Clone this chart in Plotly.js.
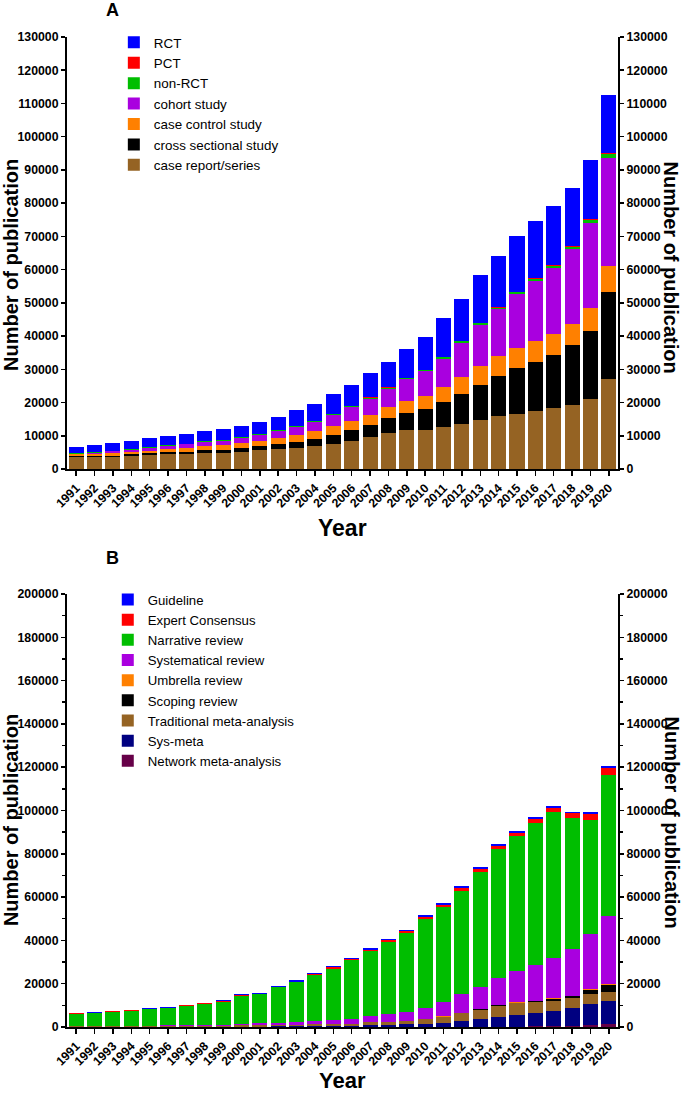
<!DOCTYPE html>
<html>
<head>
<meta charset="utf-8">
<script src="https://cdn.plot.ly/plotly-3.0.1.min.js"></script>
<style>html,body{margin:0;padding:0;background:#fff;}#chart{width:685px;height:1094px;}</style>
</head>
<body>
<div id="chart"></div>
<script>
const years = ['1991','1992','1993','1994','1995','1996','1997','1998','1999','2000','2001','2002','2003','2004','2005','2006','2007','2008','2009','2010','2011','2012','2013','2014','2015','2016','2017','2018','2019','2020'];

// Panel A (stack order bottom -> top)
const caseReport = [3500,3600,3600,3900,4100,4400,4400,4800,4800,5200,5600,5900,6400,7000,7600,8500,9500,10700,11800,11800,12800,13700,14700,15900,16600,17500,18300,19200,21000,27100];
const crossSectional = [400,400,400,500,600,700,800,800,900,1100,1200,1500,1800,2000,2700,3100,3700,4600,5200,6200,7400,8800,10600,12200,13700,14700,16000,18200,20600,26300];
const caseControl = [500,600,800,800,800,1000,1100,1400,1400,1600,1600,1800,2000,2300,2700,2900,3200,3500,3600,4000,4500,5200,5700,5900,6200,6200,6200,6300,6800,7700];
const cohort = [200,300,500,600,900,900,1100,1200,1400,1400,1900,2200,2500,2800,3300,4100,4800,5400,6400,7600,8500,10300,12400,14100,16100,18200,20000,22400,25500,32400];
const nonRCT = [100,100,100,100,150,150,150,150,200,200,200,250,250,300,300,300,300,300,300,300,400,400,400,500,600,600,700,800,1100,1300];
const PCT = [50,50,50,50,50,50,50,50,50,50,50,50,50,50,50,50,50,50,50,50,50,100,100,100,100,300,200,200,300,200];
const RCT = [1950,2050,2450,2450,2600,2600,2900,3000,3350,3550,3650,4100,4700,5250,6050,6350,7350,7650,8650,9750,11650,12700,14500,15500,16900,17000,17600,17400,17600,17600];

// Panel B (stack order bottom -> top)
const networkMeta = [0,0,0,0,0,0,0,0,0,0,0,0,0,0,0,0,0,0,0,0,50,100,100,150,200,300,500,600,800,1200];
const sysMeta = [50,50,50,50,50,100,100,100,100,200,200,300,300,400,500,600,1100,1100,1200,1500,1750,2700,3400,4350,5200,6000,6700,8000,9800,11000];
const tradMeta = [250,250,250,300,350,300,400,400,500,600,700,700,800,900,900,900,1100,1200,1600,2200,3000,3500,4500,5200,5500,5100,5000,4800,4500,4000];
const scoping = [0,0,0,0,0,0,0,0,0,0,0,0,0,0,0,0,0,0,0,0,50,100,200,300,400,400,900,900,2100,3300];
const umbrella = [0,0,0,0,0,0,0,0,0,0,0,0,0,0,0,0,0,0,0,0,50,50,100,100,100,150,200,200,300,400];
const systematical = [100,100,200,150,200,300,300,400,400,700,800,1000,1100,1300,1700,2300,2900,3700,4300,5200,6500,8650,10300,12400,14400,16550,18700,21500,25600,31200];
const narrative = [5700,6000,6500,7000,7500,7900,8900,9700,10600,13000,13400,16300,18400,21200,23900,27000,30000,33400,36300,40800,44000,47800,52900,59800,62400,65500,67100,60300,52700,65200];
const expert = [200,200,200,200,200,200,300,300,300,300,300,400,400,500,500,600,600,600,800,1000,1000,1200,1300,1300,1500,1900,2100,2400,2600,3300];
const guideline = [300,300,300,300,300,300,300,300,400,400,400,400,500,500,500,600,600,600,600,800,800,800,900,900,900,900,800,800,700,1000];

const seriesA = [
  {name:'case report/series', y:caseReport, color:'#956323'},
  {name:'cross sectional study', y:crossSectional, color:'#000000'},
  {name:'case control study', y:caseControl, color:'#FF8000'},
  {name:'cohort study', y:cohort, color:'#A900DF'},
  {name:'non-RCT', y:nonRCT, color:'#00BE00'},
  {name:'PCT', y:PCT, color:'#FF0000'},
  {name:'RCT', y:RCT, color:'#0000FF'}
];
const seriesB = [
  {name:'Network meta-analysis', y:networkMeta, color:'#660048'},
  {name:'Sys-meta', y:sysMeta, color:'#000080'},
  {name:'Traditional meta-analysis', y:tradMeta, color:'#956323'},
  {name:'Scoping review', y:scoping, color:'#000000'},
  {name:'Umbrella review', y:umbrella, color:'#FF8000'},
  {name:'Systematical review', y:systematical, color:'#A900DF'},
  {name:'Narrative review', y:narrative, color:'#00BE00'},
  {name:'Expert Consensus', y:expert, color:'#FF0000'},
  {name:'Guideline', y:guideline, color:'#0000FF'}
];

const traces = [];
seriesA.forEach(s => traces.push({type:'bar', x:years, y:s.y, name:s.name, marker:{color:s.color}, xaxis:'x', yaxis:'y', legend:'legend', hoverinfo:'skip'}));
seriesB.forEach(s => traces.push({type:'bar', x:years, y:s.y, name:s.name, marker:{color:s.color}, xaxis:'x2', yaxis:'y2', legend:'legend2', hoverinfo:'skip'}));
// helper traces so the right-hand axes are drawn
traces.push({type:'scatter', mode:'markers', x:years, y:years.map(()=>0), marker:{opacity:0}, xaxis:'x', yaxis:'y3', showlegend:false, hoverinfo:'skip'});
traces.push({type:'scatter', mode:'markers', x:years, y:years.map(()=>0), marker:{opacity:0}, xaxis:'x2', yaxis:'y4', showlegend:false, hoverinfo:'skip'});

const FONT = '"Liberation Sans", Arial, sans-serif';
const tickFont = {family:FONT, size:12.3, color:'#000', weight:'bold'};
const yBase = {showline:true, linecolor:'#000', linewidth:2, ticks:'outside', ticklen:4, tickwidth:1.5, tickcolor:'#000', showgrid:false, zeroline:false, tickfont:tickFont, tickformat:'d', fixedrange:true};
const xBase = {type:'category', showline:true, linecolor:'#000', linewidth:2, ticks:'outside', ticklen:5, tickwidth:1.5, tickcolor:'#000', showgrid:false, zeroline:false, tickangle:-45, tickfont:tickFont, range:[-0.5,29.5]};

const domA = [0.5636, 1];
const domB = [0, 0.4374];
const minorB = {dtick:10000, ticks:'outside', ticklen:3, tickwidth:1.5, tickcolor:'#000'};

const titleFont = {family:FONT, size:20, weight:'bold', color:'#000'};
const ann = (text, x, y, extra) => Object.assign({text:text, xref:'paper', yref:'paper', x:x, y:y, xanchor:'center', yanchor:'middle', showarrow:false, font:titleFont}, extra || {});

const layout = {
  width:685, height:1094,
  margin:{l:67, r:67, t:37, b:67},
  paper_bgcolor:'#fff', plot_bgcolor:'#fff',
  barmode:'stack', bargap:0.18,
  font:{family:FONT, color:'#000'},
  xaxis:Object.assign({}, xBase, {anchor:'y', domain:[0,1]}),
  xaxis2:Object.assign({}, xBase, {anchor:'y2', domain:[0,1]}),
  yaxis:Object.assign({}, yBase, {domain:domA, range:[0,130000], dtick:10000, tick0:0, anchor:'x'}),
  yaxis3:Object.assign({}, yBase, {overlaying:'y', side:'right', range:[0,130000], dtick:10000, tick0:0, anchor:'x'}),
  yaxis2:Object.assign({}, yBase, {domain:domB, range:[0,200000], dtick:20000, tick0:0, anchor:'x2', minor:minorB}),
  yaxis4:Object.assign({}, yBase, {overlaying:'y2', side:'right', range:[0,200000], dtick:20000, tick0:0, anchor:'x2', minor:minorB}),
  legend:{x:0.085, y:1.010, xanchor:'left', yanchor:'top', traceorder:'reversed', bgcolor:'rgba(0,0,0,0)', font:{family:FONT, size:13.4, color:'#000'}, tracegroupgap:0},
  legend2:{x:0.074, y:0.4470, xanchor:'left', yanchor:'top', traceorder:'reversed', bgcolor:'rgba(0,0,0,0)', font:{family:FONT, size:13.2, color:'#000'}, tracegroupgap:0},
  showlegend:true,
  annotations:[
    ann('A', 0.0817, 1.0273, {font:{family:FONT, size:18, weight:'bold'}}),
    ann('B', 0.0817, 0.4737, {font:{family:FONT, size:18, weight:'bold'}}),
    ann('Number of publication', -0.1016, 0.7697, {textangle:-90}),
    ann('Number of publication', 1.0970, 0.7667, {textangle:90}),
    ann('Year', 0.5, 0.5040, {font:{family:FONT, size:23, weight:'bold'}}),
    ann('Number of publication', -0.1016, 0.2090, {textangle:-90}),
    ann('Number of publication', 1.0970, 0.2060, {textangle:90}),
    ann('Year', 0.5, -0.0545, {font:{family:FONT, size:22, weight:'bold'}})
  ]
};

Plotly.newPlot('chart', traces, layout, {displayModeBar:false, staticPlot:true});
</script>
</body>
</html>
